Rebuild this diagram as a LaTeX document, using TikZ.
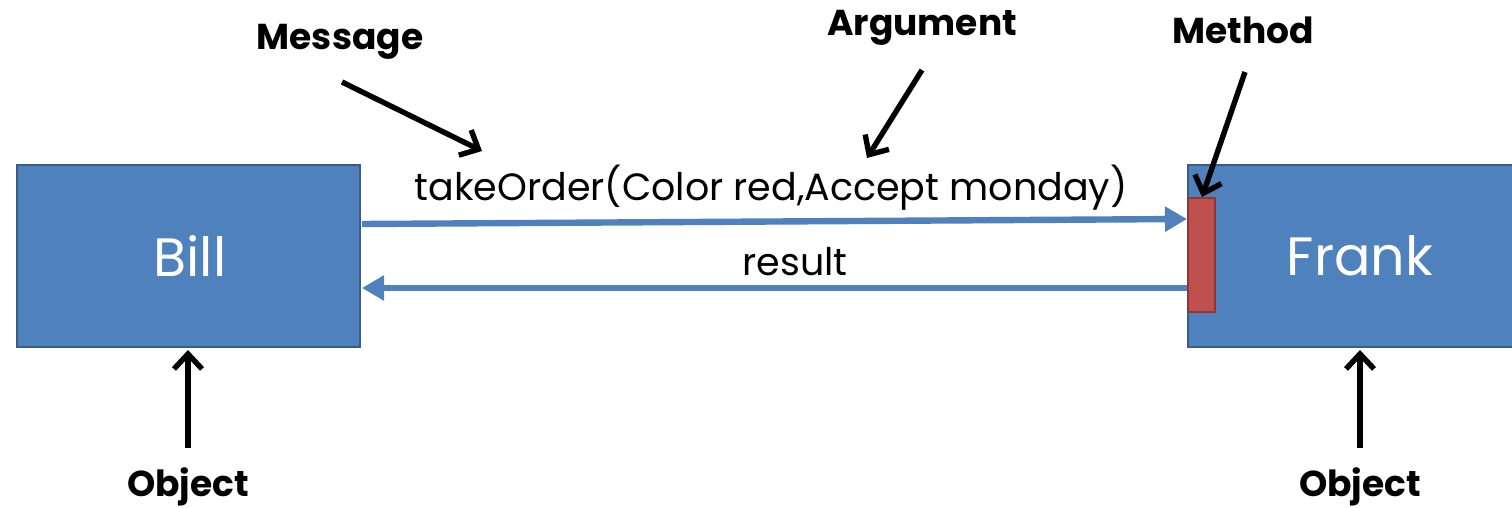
\documentclass[tikz,border=0pt]{standalone}
\usepackage{fontspec}
\setmainfont{Poppins}
\usetikzlibrary{arrows.meta}
\definecolor{boxblue}{HTML}{4F81BD}
\definecolor{boxedge}{HTML}{385D8A}
\definecolor{methred}{HTML}{C0504D}
\definecolor{methedge}{HTML}{8C3836}
\begin{document}
\begin{tikzpicture}[x=0.5pt,y=-0.5pt,
  obj/.style={draw=boxedge,line width=1pt,fill=boxblue,text=white,font=\fontsize{27}{32}\selectfont},
  meth/.style={draw=methedge,line width=1pt,fill=methred},
  lbl/.style={font=\bfseries\fontsize{18}{22}\selectfont,inner sep=0pt},
  msgtext/.style={font=\fontsize{19}{23}\selectfont,inner sep=0pt},
  pointer/.style={line width=2.7pt,-{Straight Barb[length=7.5pt,width=14pt,line width=2.7pt]}},
  flow/.style={draw=boxblue,line width=3.2pt,-{Triangle[length=11pt,width=12pt]}}]
\useasboundingbox (0,0) rectangle (1512,508);
% boxes
\path[obj] (17,165) rectangle (360,347);
\node[text=white,font=\fontsize{27}{32}\selectfont] (bill) at (190,256) {Bill};
\coordinate (billR1) at (362,224);
\coordinate (billR2) at (362,288);
\coordinate (billB) at (188,350);
\path[obj] (1188,165) rectangle (1514,347);
\node[text=white,font=\fontsize{27}{32}\selectfont] (frank) at (1360,256) {Frank};
\coordinate (frankB) at (1360,350);
\node[meth,minimum width=13.5pt,minimum height=57pt,inner sep=0pt] (method) at (1201.5,255) {};
% flows
\draw[flow] (billR1) -- (method.west |- 0,219);
\draw[flow] (method.west |- 0,288) -- (billR2);
\node[msgtext] (call) at (771,188) {takeOrder(Color red,Accept monday)};
\node[msgtext] (res) at (795,262) {result};
% labels
\node[lbl] (message) at (340,42) {Message};
\node[lbl] (argument) at (922,28) {Argument};
\node[lbl] (methodl) at (1243,30) {Method};
\node[lbl] (obj1) at (188,487) {Object};
\node[lbl] (obj2) at (1360,487) {Object};
\coordinate (msgS) at (342,82);
\coordinate (msgE) at (482,151);
\coordinate (argS) at (922,70);
\coordinate (argE) at (867,158);
\coordinate (metS) at (1245,72);
\coordinate (metE) at (1202,197);
\coordinate (o1S) at (188,448);
\coordinate (o2S) at (1360,448);
\draw[pointer] (msgS) -- (msgE);
\draw[pointer] (argS) -- (argE);
\draw[pointer] (metS) -- (metE);
\draw[pointer] (o1S) -- (billB);
\draw[pointer] (o2S) -- (frankB);
\end{tikzpicture}
\end{document}
